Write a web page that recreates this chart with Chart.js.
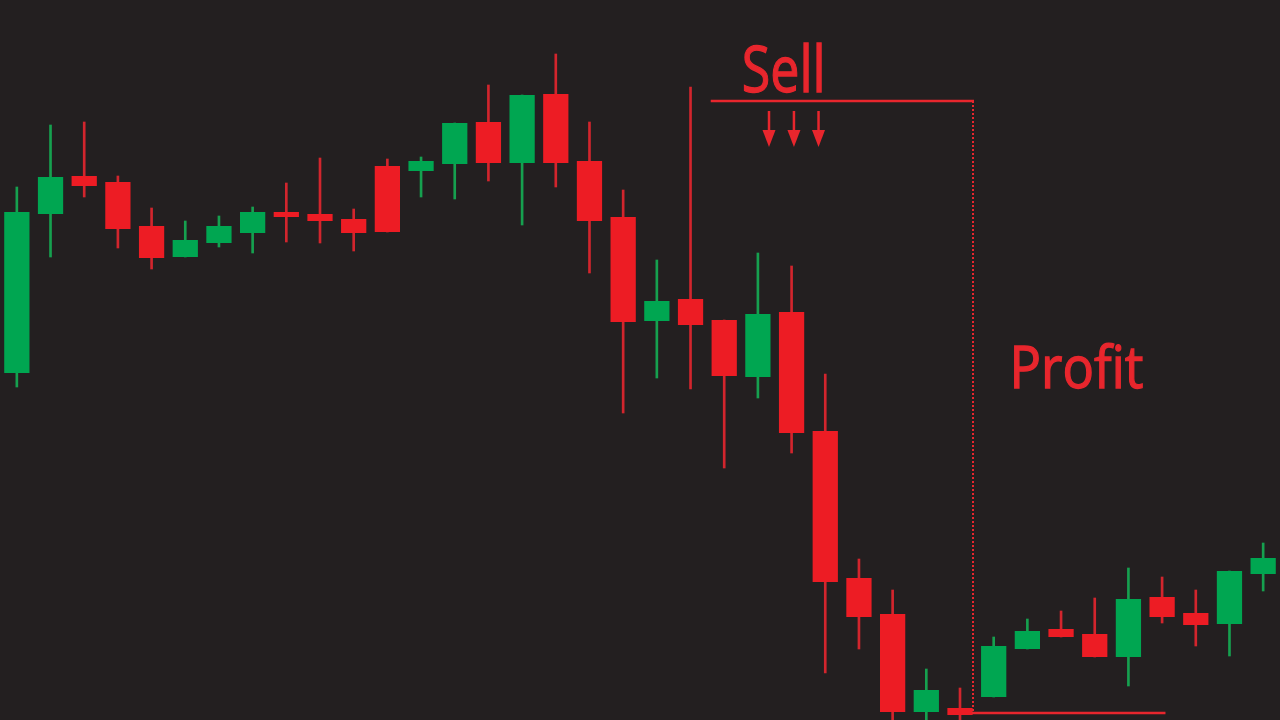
<!DOCTYPE html>
<html>
<head>
<meta charset="utf-8">
<script src="https://cdn.jsdelivr.net/npm/chart.js@4.4.1/dist/chart.umd.min.js"></script>
<style>
  html, body { margin: 0; padding: 0; background: #231f20; }
  #wrap { width: 1280px; height: 720px; position: relative; }
</style>
</head>
<body>
<div id="wrap"><canvas id="Chart"></canvas></div>
<script>
// candle data (one entry per candle)
const Opens  = [347, 506, 544, 538, 494, 463, 477, 487, 508, 506, 501, 554, 549, 556, 598, 557, 626, 559, 503, 399,
                421, 400, 343, 408, 289, 142, 106, 8, 12, 23, 71, 91, 86, 63, 123, 107, 96, 146];
const Highs  = [533, 595, 598, 544, 512, 499, 504, 513, 537, 562, 511, 561, 563, 597, 635, 625, 666, 598, 530, 460,
                633, 400, 467, 454, 346, 161, 130, 51, 32, 83, 101, 109, 122, 152, 143, 130, 149, 177];
const Lows   = [333, 463, 523, 472, 451, 463, 473, 467, 478, 477, 469, 488, 523, 521, 539, 495, 533, 447, 307, 342,
                331, 252, 322, 267, 47, 71, -5, -5, -5, 23, 71, 83, 63, 34, 97, 74, 64, 129];
const Closes = [508, 543, 534, 491, 462, 480, 494, 508, 503, 499, 487, 488, 559, 597, 557, 625, 557, 499, 398, 419,
                395, 344, 406, 287, 138, 103, 8, 30, 5, 74, 89, 83, 63, 121, 103, 95, 149, 162];
const Labels = Opens.map((_, i) => 'C' + (i + 1));

// annotation levels (price) and positions (candle index)
const SellLevel = 619;
const ProfitLevel = 7;
const SellStart = 20.6, SellEnd = 28.4, ProfitEnd = 34.1;
const ArrowAt = [22.33, 23.07, 23.8];

const UP = '#00a651', DOWN = '#ed1c24';
const UP_WICK = '#16a04f', DOWN_WICK = '#d2252d';
const TEXT_RED = '#e8262d';

const isUp = Opens.map((o, i) => Closes[i] >= o);

const data = {
  labels: Labels,
  datasets: [
    {
      label: 'Body',
      data: Opens.map((o, i) => [o, Closes[i]]),
      backgroundColor: isUp.map(u => u ? UP : DOWN),
      borderWidth: 0,
      borderSkipped: false,
      barPercentage: 0.75,
      categoryPercentage: 1,
      grouped: false,
      order: 1,
    },
    {
      label: 'Wick',
      data: Lows.map((l, i) => [l, Highs[i]]),
      backgroundColor: isUp.map(u => u ? UP_WICK : DOWN_WICK),
      borderWidth: 0,
      barThickness: 2,
      grouped: false,
      order: 2,
    }
  ]
};

// draws the Sell / Profit marks from the scales
const annotations = {
  id: 'annotations',
  afterDatasetsDraw(chart) {
    const { ctx, scales: { x, y } } = chart;
    const xAt = v => x.getPixelForValue(v);
    ctx.save();
    ctx.strokeStyle = TEXT_RED;
    ctx.fillStyle = TEXT_RED;

    // sell line
    const ys = y.getPixelForValue(SellLevel);
    const xe = Math.round(xAt(SellEnd));
    ctx.lineWidth = 2.5;
    ctx.beginPath();
    ctx.moveTo(xAt(SellStart), ys);
    ctx.lineTo(xe + 1, ys);
    ctx.stroke();

    // dotted drop line
    const yp = y.getPixelForValue(ProfitLevel);
    ctx.lineWidth = 2;
    ctx.setLineDash([2, 2]);
    ctx.beginPath();
    ctx.moveTo(xe, ys);
    ctx.lineTo(xe, yp);
    ctx.stroke();
    ctx.setLineDash([]);

    // profit line
    ctx.lineWidth = 2.5;
    ctx.beginPath();
    ctx.moveTo(xe - 1, yp);
    ctx.lineTo(xAt(ProfitEnd), yp);
    ctx.stroke();

    // arrows
    ArrowAt.forEach(a => {
      const ax = xAt(a);
      ctx.lineWidth = 2.5;
      ctx.beginPath();
      ctx.moveTo(ax, ys + 10);
      ctx.lineTo(ax, ys + 34);
      ctx.stroke();
      ctx.beginPath();
      ctx.moveTo(ax - 6.5, ys + 29);
      ctx.lineTo(ax + 6.5, ys + 29);
      ctx.lineTo(ax, ys + 46);
      ctx.closePath();
      ctx.fill();
    });

    // labels (thin stroke to thicken the condensed glyphs)
    ctx.textBaseline = 'alphabetic';
    ctx.textAlign = 'left';
    ctx.lineWidth = 1.3;
    ctx.font = '64px "Open Sans", "Noto Sans", sans-serif';
    ctx.fillText('Sell', xAt(SellStart) + 31, ys - 9, 84);
    ctx.strokeText('Sell', xAt(SellStart) + 31, ys - 9, 84);
    ctx.font = '58px "Open Sans", "Noto Sans", sans-serif';
    const yt = y.getPixelForValue(332);
    ctx.fillText('Profit', xAt(SellEnd) + 36, yt, 134);
    ctx.strokeText('Profit', xAt(SellEnd) + 36, yt, 134);
    ctx.restore();
  }
};

const config = {
  type: 'bar',
  data: data,
  options: {
    responsive: true,
    maintainAspectRatio: false,
    animation: false,
    layout: { padding: 0 },
    scales: {
      x: { display: false, offset: true },
      y: { display: false, min: 0, max: 720 }
    },
    plugins: {
      legend: { display: false },
      tooltip: { enabled: false }
    }
  },
  plugins: [annotations]
};

window.addEventListener('load', () => {
  const ctx = document.getElementById('Chart');
  new Chart(ctx, config);
});
</script>
</body>
</html>
